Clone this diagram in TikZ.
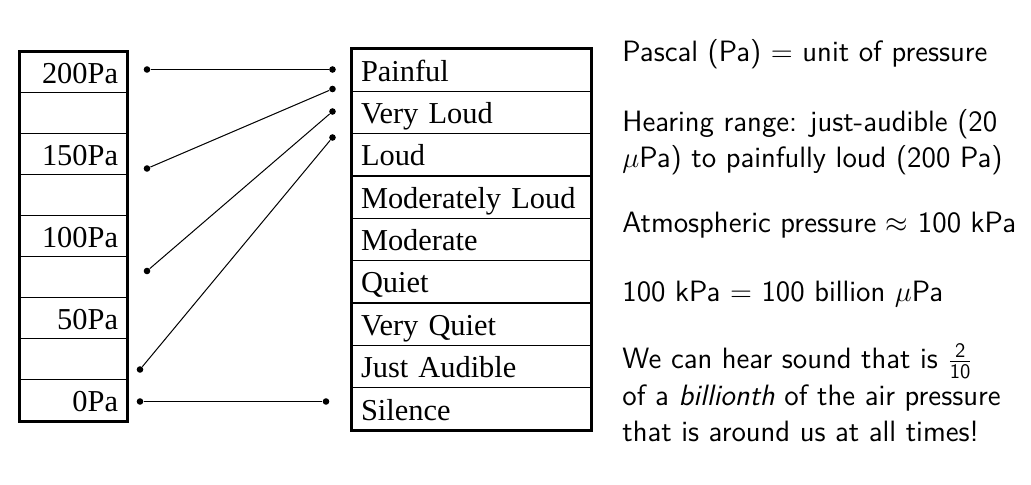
\documentclass[tikz,border=0pt]{standalone}
\usepackage{fontspec}
\newfontfamily\tablefont{Liberation Serif}
\begin{document}
\begin{tikzpicture}[x=0.5pt, y=-0.5pt]
        \tikzset{lrow/.style = {draw, line width=0.5pt, font=\tablefont\fontsize{15.2}{18}\selectfont,
                align=right, text width=44.5pt, inner xsep=4.5pt, inner ysep=0pt,
                minimum height=20.5pt, text height=11.2pt, text depth=0pt}}
        \tikzset{rrow/.style = {draw, line width=0.5pt, font=\tablefont\fontsize{15.2}{18}\selectfont,
                align=left, text width=110.5pt, inner xsep=4.5pt, inner ysep=0pt,
                minimum height=21.17pt, text height=11.2pt, text depth=0pt}}
        \tikzset{dot/.style = {circle, fill, inner sep=0pt, minimum size=3.3pt}}
        \tikzset{note/.style = {anchor=base west, align=left, inner sep=0pt,
                font=\sffamily\fontsize{14.7}{18}\selectfont}}

        \useasboundingbox (0,0) rectangle (1031,485);

        \node[lrow] (l200) at (73.5, 72.5) {200Pa};
        \node[lrow] (l175) at (73.5, 113.5) {};
        \node[lrow] (l150) at (73.5, 154.5) {150Pa};
        \node[lrow] (l125) at (73.5, 195.5) {};
        \node[lrow] (l100) at (73.5, 236.5) {100Pa};
        \node[lrow] (l75) at (73.5, 277.5) {};
        \node[lrow] (l50) at (73.5, 318.5) {50Pa};
        \node[lrow] (l25) at (73.5, 359.5) {};
        \node[lrow] (l0) at (73.5, 400.5) {0Pa};

        \node[rrow] (painful) at (471.5, 70.2) {Painful};
        \node[rrow] (vloud) at (471.5, 112.5) {Very Loud};
        \node[rrow] (loud) at (471.5, 154.8) {Loud};
        \node[rrow] (mloud) at (471.5, 197.2) {Moderately Loud};
        \node[rrow] (moderate) at (471.5, 239.5) {Moderate};
        \node[rrow] (quiet) at (471.5, 281.8) {Quiet};
        \node[rrow] (vquiet) at (471.5, 324.2) {Very Quiet};
        \node[rrow] (audible) at (471.5, 366.5) {Just Audible};
        \node[rrow] (silence) at (471.5, 408.8) {Silence};

        \draw[line width=1.2pt] (l200.north west) rectangle (l0.south east);
        \draw[line width=1.2pt] (painful.north west) rectangle (silence.south east);

        \node[dot] (a) at (147, 69.5) {};
        \node[dot] (b) at (147, 168.5) {};
        \node[dot] (c) at (147, 271) {};
        \node[dot] (d) at (140, 369.5) {};
        \node[dot] (e) at (140, 401.5) {};

        \node[dot] (f) at (332.5, 69.5) {};
        \node[dot] (g) at (332.5, 89) {};
        \node[dot] (h) at (332.5, 111.5) {};
        \node[dot] (i) at (332.5, 137.5) {};
        \node[dot] (j) at (326, 401.5) {};

        \draw[line width=0.5pt] (a) edge (f);
        \draw[line width=0.5pt] (b) edge (g);
        \draw[line width=0.5pt] (c) edge (h);
        \draw[line width=0.5pt] (d) edge (i);
        \draw[line width=0.5pt] (e) edge (j);

        % multi-line notes are placed by the baseline of their last line
        \node[note] (unit) at (622, 62) {Pascal (Pa) $=$ unit of pressure};
        \node[note] (range) at (622, 168) {Hearing range: just-audible (20\\$\mu$Pa) to painfully loud (200 Pa)};
        \node[note] (atmos) at (622, 233) {Atmospheric pressure $\approx$ 100 kPa};
        \node[note] (billion) at (622, 302) {100 kPa $=$ 100 billion $\mu$Pa};
        \node[note] (hear) at (622, 441) {We can hear sound that is $\frac{\mathsf{2}}{\mathsf{10}}$\\of a \textit{billionth} of the air pressure\\that is around us at all times!};

    \end{tikzpicture}
\end{document}
